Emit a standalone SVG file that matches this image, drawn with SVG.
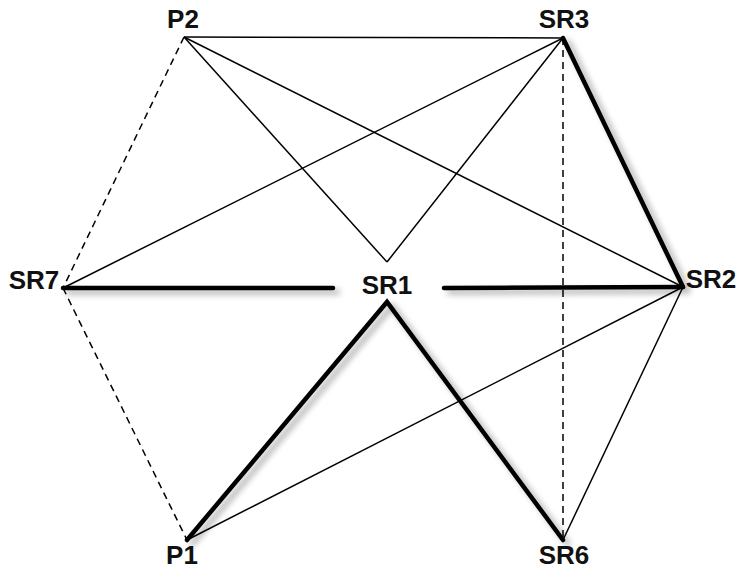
<svg xmlns="http://www.w3.org/2000/svg" width="739" height="571" viewBox="0 0 739 571">
<defs>
<style>
.t{stroke:#000;stroke-width:1.5;fill:none}
.k{stroke:#000;stroke-width:4.5;fill:none;stroke-linecap:round}
.d{stroke:#000;stroke-width:1.5;fill:none;stroke-dasharray:7,5}
.l{font-family:"Liberation Sans",Arial,sans-serif;font-weight:bold;font-size:26px;fill:#111;text-anchor:middle}
</style>
<filter id="sh" x="-20%" y="-20%" width="140%" height="140%">
<feGaussianBlur in="SourceAlpha" stdDeviation="3"/>
<feOffset dx="5" dy="4" result="b"/>
<feComponentTransfer><feFuncA type="linear" slope="0.35"/></feComponentTransfer>
<feMerge><feMergeNode/><feMergeNode in="SourceGraphic"/></feMerge>
</filter>
</defs>
<rect width="739" height="571" fill="#fff"/>
<g id="connectors">
<line class="t" x1="184" y1="37" x2="563" y2="38"/>
<line class="t" x1="184" y1="37" x2="387" y2="262"/>
<line class="t" x1="184" y1="37" x2="683" y2="287"/>
<line class="t" x1="563" y1="38" x2="63" y2="288"/>
<line class="t" x1="563" y1="38" x2="387" y2="262"/>
<line class="t" x1="683" y1="287" x2="187" y2="540"/>
<line class="t" x1="683" y1="287" x2="563" y2="540"/>
<line class="d" x1="184" y1="37" x2="63" y2="288"/>
<line class="d" x1="63" y1="288" x2="187" y2="540"/>
<line class="d" x1="563" y1="38" x2="563" y2="540"/>
<g filter="url(#sh)">
<line class="k" x1="63" y1="288" x2="333" y2="288"/>
<line class="k" x1="444" y1="288" x2="683" y2="287"/>
<line class="k" x1="563" y1="38" x2="683" y2="287"/>
<polyline class="k" points="187,540 387,302 563,540" stroke-linejoin="miter"/>
</g>
</g>
<g id="P2"><text class="l" x="183" y="28">P2</text></g>
<g id="SR3"><text class="l" x="564" y="28">SR3</text></g>
<g id="SR7"><text class="l" x="34" y="289">SR7</text></g>
<g id="SR1"><text class="l" x="387" y="294">SR1</text></g>
<g id="SR2"><text class="l" x="711" y="288">SR2</text></g>
<g id="P1"><text class="l" x="182" y="564">P1</text></g>
<g id="SR6"><text class="l" x="564" y="564">SR6</text></g>
</svg>
